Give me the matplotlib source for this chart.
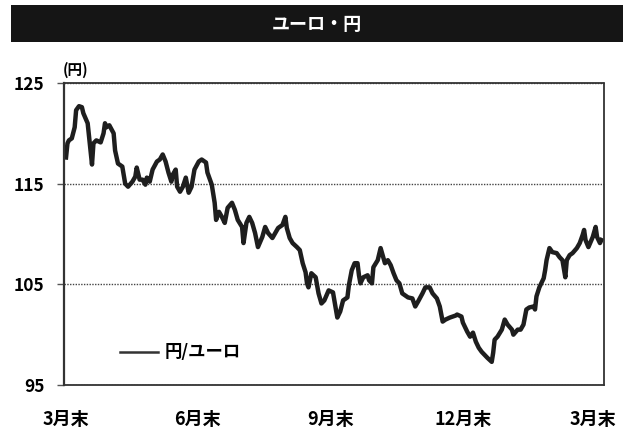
import matplotlib
matplotlib.use("Agg")
import matplotlib.pyplot as plt
from matplotlib.patches import Rectangle
from matplotlib.lines import Line2D

plt.rcParams['font.family'] = ['Noto Sans CJK JP', 'DejaVu Sans']

# days since end of March, and yen per euro
days = [0, 1, 2, 4, 6, 7, 9, 11, 12, 15, 16, 18, 19, 21, 24, 26, 27, 28, 30, 33,
        34, 36, 39, 41, 43, 46, 48, 49, 51, 53, 55, 56, 58, 60, 63, 65, 67, 69, 71, 73,
        74, 76, 77, 79, 81, 83, 85, 87, 89, 92, 94, 97, 98, 101, 103, 104, 106, 108, 110, 112,
        115, 117, 119, 122, 123, 125, 127, 129, 131, 133, 136, 138, 140, 143, 145, 147, 150, 152, 153, 155,
        157, 160, 162, 164, 166, 167, 168, 170, 173, 175, 177, 179, 182, 185, 188, 190, 192, 195, 196, 198,
        200, 202, 203, 204, 206, 209, 210, 212, 213, 216, 218, 220, 221, 223, 225, 227, 229, 231, 233, 235,
        237, 240, 242, 244, 247, 249, 252, 254, 257, 259, 261, 263, 266, 270, 271, 274, 275, 278, 280, 282,
        284, 286, 288, 290, 292, 295, 296, 297, 299, 302, 304, 306, 309, 310, 313, 315, 317, 319, 321, 324,
        325, 326, 328, 331, 332, 333, 335, 337, 340, 342, 344, 346, 347, 349, 351, 354, 356, 358, 359, 360,
        362, 365, 367, 368, 370, 371]
rate = [117.6, 119.0, 119.3, 119.5, 120.6, 122.3, 122.7, 122.6, 122.0, 121.0, 119.6, 116.9, 119.0, 119.3, 119.1, 120.0, 121.0, 120.6, 120.8, 120.0,
        118.3, 117.0, 116.7, 115.0, 114.7, 115.2, 115.7, 116.6, 115.4, 115.4, 114.9, 115.6, 115.2, 116.4, 117.2, 117.4, 117.9, 117.2, 116.1, 115.2,
        115.9, 116.4, 114.7, 114.2, 114.7, 115.6, 114.1, 114.7, 116.4, 117.2, 117.4, 117.1, 116.1, 114.9, 113.1, 111.4, 112.2, 111.7, 111.1, 112.6,
        113.1, 112.4, 111.4, 110.7, 109.1, 111.1, 111.7, 111.1, 110.1, 108.7, 109.7, 110.7, 110.1, 109.6, 110.1, 110.6, 110.9, 111.7, 110.6, 109.6,
        109.1, 108.7, 108.4, 107.1, 106.2, 105.1, 104.7, 106.1, 105.7, 104.1, 103.1, 103.4, 104.4, 104.2, 101.7, 102.3, 103.4, 103.7, 104.9, 106.4,
        107.1, 107.1, 105.9, 105.1, 105.7, 105.9, 105.4, 105.1, 106.7, 107.4, 108.6, 107.6, 107.1, 107.4, 106.9, 106.1, 105.4, 105.1, 104.1, 103.9,
        103.7, 103.6, 102.8, 103.3, 104.1, 104.7, 104.7, 104.1, 103.6, 102.8, 101.3, 101.5, 101.7, 101.9, 102.0, 101.8, 101.2, 100.3, 99.8, 100.2,
        99.3, 98.7, 98.3, 98.0, 97.7, 97.3, 98.2, 99.5, 99.8, 100.5, 101.5, 101.0, 100.5, 100.0, 100.5, 100.5, 101.0, 102.5, 102.7, 102.8,
        102.5, 103.8, 104.7, 105.6, 106.4, 107.4, 108.6, 108.2, 108.1, 107.7, 107.4, 105.7, 107.4, 107.9, 108.1, 108.6, 109.1, 109.9, 110.4, 109.4,
        108.7, 109.7, 110.7, 109.7, 109.1, 109.4]

tick_days = [0, 91, 183, 275, 365]
tick_labels = ['3月末', '6月末', '9月末', '12月末', '3月末']
y_ticks = [95, 105, 115, 125]

W, H = 631, 430
fig = plt.figure(figsize=(W / 100, H / 100), dpi=100)
fig.patch.set_facecolor('white')

# title bar
fig.add_artist(Rectangle((11 / W, 1 - 42 / H), 612 / W, 37 / H,
                         transform=fig.transFigure, facecolor='#151515', edgecolor='none'))
fig.text(317 / W, 1 - 25 / H, 'ユーロ・円', color='white', fontsize=13,
         fontweight='bold', ha='center', va='center')

ax = fig.add_axes([64 / W, 1 - 385 / H, 540 / W, 302 / H])
ax.plot(days, rate, color='#1e1e1e', lw=3.2, solid_joinstyle='round')

ax.set_xlim(-1.4, 372.8)
ax.set_ylim(95, 125)
ax.set_yticks(y_ticks)
ax.set_xticks(tick_days)
ax.set_xticklabels(tick_labels)
ax.tick_params(axis='x', length=0, pad=18, labelsize=13)
ax.tick_params(axis='y', length=5, width=1, color='#555555', pad=9, labelsize=12.5)
for lab in ax.get_xticklabels() + ax.get_yticklabels():
    lab.set_fontweight('bold')

ax.yaxis.grid(True, linestyle=(0, (1, 1)), color='#444444', lw=1)
ax.set_axisbelow(True)
for side in ['top', 'bottom', 'right']:
    ax.spines[side].set_linestyle((0, (1, 1)))
    ax.spines[side].set_color('#333333')
    ax.spines[side].set_linewidth(1.3)
ax.spines['left'].set_color('#333333')
ax.spines['left'].set_linewidth(1.6)

fig.text(76 / W, 1 - 70 / H, '(円)', fontsize=10.5, fontweight='bold',
         ha='center', va='center')

# legend
fig.add_artist(Line2D([120 / W, 158 / W], [1 - 352 / H, 1 - 352 / H],
                      transform=fig.transFigure, color='#333333', lw=1.8))
fig.text(165 / W, 1 - 352 / H, '円/ユーロ', fontsize=12.5, fontweight='bold',
         ha='left', va='center')

fig.savefig('out.png', dpi=100)
